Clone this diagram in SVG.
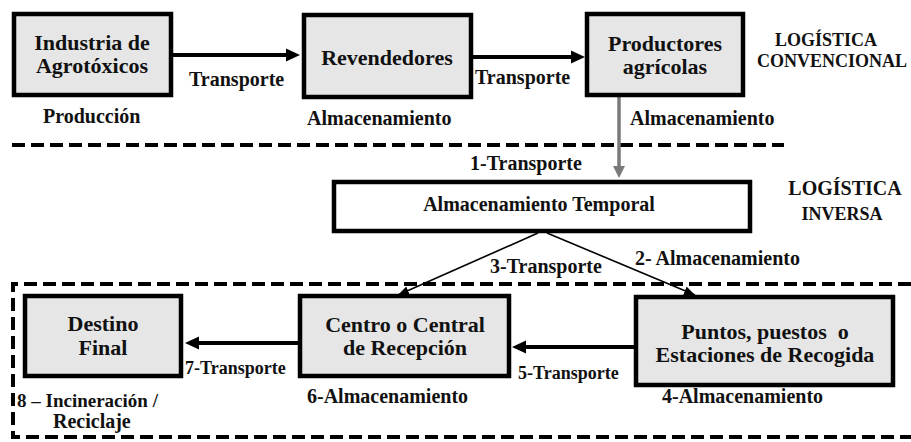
<svg xmlns="http://www.w3.org/2000/svg" width="911" height="442" viewBox="0 0 911 442">
<style>
.box{fill:#e6e6e6;stroke:#000;stroke-width:4.5}
.wbox{fill:#fff;stroke:#000;stroke-width:4.5}
text{font-family:"Liberation Serif","Times New Roman","DejaVu Serif",serif;font-weight:bold;fill:#111}
.n{font-size:22px;text-anchor:middle}
.l{font-size:20px}
.c{text-anchor:middle}
.thick{stroke:#000;stroke-width:4;fill:none}
.thin{stroke:#000;stroke-width:1.6;fill:none}
.gray{stroke:#7a7a7a;stroke-width:3.5;fill:none}
.dash{stroke:#000;stroke-width:4;fill:none;stroke-dasharray:13 6}
</style>
<defs>
<marker id="ah" markerUnits="userSpaceOnUse" markerWidth="16" markerHeight="14" refX="2" refY="7" orient="auto">
<path d="M0,0.5 L14,7 L0,13.5 z" fill="#000"/>
</marker>
<marker id="ahg" markerUnits="userSpaceOnUse" markerWidth="14" markerHeight="14" refX="2" refY="6.5" orient="auto">
<path d="M0,0.5 L12,6.5 L0,12.5 z" fill="#7a7a7a"/>
</marker>
<marker id="aht" markerUnits="userSpaceOnUse" markerWidth="12" markerHeight="10" refX="11" refY="4.5" orient="auto">
<path d="M0,0 L11,4.5 L0,9 z" fill="#000"/>
</marker>
</defs>

<g id="separators">
<line class="dash" x1="12" y1="145" x2="784" y2="145"/>
<path class="dash" d="M911,284 H13 V437 H911"/>
</g>

<g id="connectors">
<line class="thick" x1="173" y1="55" x2="288" y2="55" marker-end="url(#ah)"/>
<line class="thick" x1="473" y1="57" x2="573" y2="57" marker-end="url(#ah)"/>
<line class="gray" x1="619" y1="97" x2="619" y2="168" marker-end="url(#ahg)"/>
<line class="thin" x1="538" y1="233" x2="398" y2="295" marker-end="url(#aht)"/>
<line class="thin" x1="547" y1="233" x2="695" y2="295" marker-end="url(#aht)"/>
<line class="thick" x1="298" y1="343" x2="197" y2="343" marker-end="url(#ah)"/>
<line class="thick" x1="634" y1="347" x2="524" y2="347" marker-end="url(#ah)"/>
</g>

<g id="industria">
<rect class="box" x="14" y="14" width="157" height="81"/>
<text class="n" x="92" y="50">Industria de</text>
<text class="n" x="92" y="73">Agrotóxicos</text>
</g>
<g id="revendedores">
<rect class="box" x="304" y="15" width="167" height="82"/>
<text class="n" x="387" y="65">Revendedores</text>
</g>
<g id="productores">
<rect class="box" x="587" y="14" width="156" height="81"/>
<text class="n" x="665" y="51">Productores</text>
<text class="n" x="665" y="74">agrícolas</text>
</g>
<g id="temporal">
<rect class="wbox" x="334" y="182" width="416" height="49"/>
<text class="l c" x="539" y="211">Almacenamiento Temporal</text>
</g>
<g id="destino">
<rect class="box" x="25" y="296" width="156" height="80"/>
<text class="n" x="103" y="331">Destino</text>
<text class="n" x="103" y="355">Final</text>
</g>
<g id="centro">
<rect class="box" x="300" y="296" width="209" height="80"/>
<text class="n" x="405" y="332">Centro o Central</text>
<text class="n" x="405" y="355">de Recepción</text>
</g>
<g id="puntos">
<rect class="box" x="636" y="297" width="257" height="88"/>
<text class="n" x="765" y="339" style="white-space:pre">Puntos, puestos  o</text>
<text class="n" x="765" y="362">Estaciones de Recogida</text>
</g>

<g id="labels">
<text class="l" x="189" y="86">Transporte</text>
<text class="l" x="475" y="84">Transporte</text>
<text class="l" x="43" y="123">Producción</text>
<text class="l" x="307" y="125">Almacenamiento</text>
<text class="l" x="630" y="125">Almacenamiento</text>
<text class="c" x="826" y="46" style="font-size:18px">LOGÍSTICA</text>
<text class="c" x="832" y="67" style="font-size:18px">CONVENCIONAL</text>
<text class="l" x="470" y="170">1-Transporte</text>
<text class="c" x="845" y="195" style="font-size:20px">LOGÍSTICA</text>
<text class="c" x="842" y="220" style="font-size:18px">INVERSA</text>
<text class="l" x="490" y="273">3-Transporte</text>
<text class="l" x="635" y="265">2- Almacenamiento</text>
<text x="185" y="374" style="font-size:18px">7-Transporte</text>
<text x="518" y="379" style="font-size:18px">5-Transporte</text>
<text class="l" x="307" y="403">6-Almacenamiento</text>
<text class="l" x="662" y="403">4-Almacenamiento</text>
<text x="17" y="407" style="font-size:19px">8 – Incineración /</text>
<text class="l" x="53" y="428">Reciclaje</text>
</g>
</svg>
